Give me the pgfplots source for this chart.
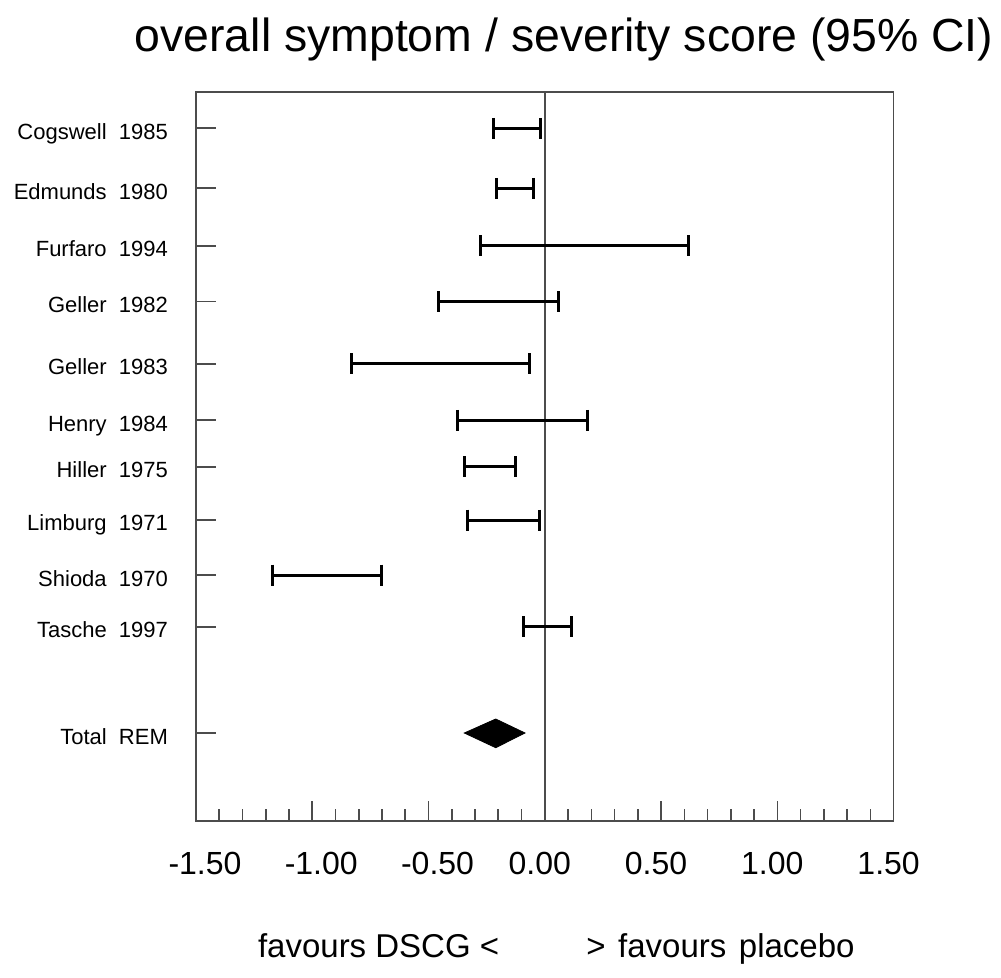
\documentclass[border=0pt]{standalone}
\usepackage{fontspec}
\setmainfont{Liberation Sans}
\usepackage{pgfplots}
\pgfplotsset{compat=1.18}
\begin{document}
\begin{tikzpicture}
\useasboundingbox (-98pt,-78.65pt) rectangle (402.5pt,410.35pt);
\begin{axis}[
  at={(0pt,0pt)}, anchor=south west,
  width=348.8pt, height=364.2pt, scale only axis,
  xmin=-1.5, xmax=1.5, ymin=92.3, ymax=820.7, y dir=reverse,
  axis line style={black!70, line width=0.8pt},
  xtick={-1.5,-1,-0.5,0,0.5,1,1.5}, minor x tick num=4,
  xtick pos=bottom, ytick pos=left, tick align=inside,
  major tick length=10pt, minor tick length=6pt,
  tick style={black!70, line width=0.8pt},
  xticklabel style={font=\fontsize{16}{16}\selectfont, anchor=base, inner sep=0pt, yshift=-26.8pt},
  xticklabels={\hspace{9pt}-1.50, \hspace{9pt}-1.00, \hspace{9pt}-0.50, 0.00\hspace{5pt}\mbox{}, 0.50\hspace{5pt}\mbox{}, 1.00\hspace{5pt}\mbox{}, 1.50\hspace{5pt}\mbox{}},
  ytick={128.3,188.3,246,301.7,364,420.3,467,520,575,626.7,733},
  yticklabels={Cogswell\ \ 1985, Edmunds\ \ 1980, Furfaro\ \ 1994, Geller\ \ 1982, Geller\ \ 1983, Henry\ \ 1984, Hiller\ \ 1975, Limburg\ \ 1971, Shioda\ \ 1970, Tasche\ \ 1997, Total\ \ REM},
  yticklabel style={font=\fontsize{11}{11}\selectfont, anchor=base east, inner sep=0pt, xshift=-13.85pt, yshift=-5.5pt},
  clip=false,
]
\addplot[black!70, line width=0.8pt] coordinates {(0,92.3) (0,820.7)};
\pgfplotsset{ci/.style={black, line width=1.5pt, mark=|, mark size=5.25pt, mark options={line width=1.5pt}}}
\addplot[ci] coordinates {(-0.2195,128.3) (-0.019,128.3)};
\addplot[ci] coordinates {(-0.207,188.3) (-0.050,188.3)};
\addplot[ci] coordinates {(-0.276,246) (0.620,246)};
\addplot[ci] coordinates {(-0.455,301.7) (0.060,301.7)};
\addplot[ci] coordinates {(-0.830,364) (-0.066,364)};
\addplot[ci] coordinates {(-0.375,420.3) (0.183,420.3)};
\addplot[ci] coordinates {(-0.347,467) (-0.125,467)};
\addplot[ci] coordinates {(-0.334,520) (-0.022,520)};
\addplot[ci] coordinates {(-1.173,575) (-0.703,575)};
\addplot[ci] coordinates {(-0.090,626.7) (0.113,626.7)};
\addplot[fill=black, draw=black, line width=0.4pt] coordinates {(-0.346,733) (-0.211,719) (-0.085,733) (-0.211,747.7)} -- cycle;
\end{axis}
\node[anchor=base, inner sep=0pt, font=\fontsize{23.2}{23.2}\selectfont] at (184pt,384.35pt) {overall symptom / severity score (95\% CI)};
\node[anchor=base east, inner sep=0pt, font=\fontsize{16.5}{16.5}\selectfont] at (151.8pt,-68.65pt) {favours DSCG <};
\node[anchor=base west, inner sep=0pt, font=\fontsize{16.5}{16.5}\selectfont] at (195pt,-68.65pt) {\spaceskip=0.38em\relax > favours placebo};
\end{tikzpicture}
\end{document}
